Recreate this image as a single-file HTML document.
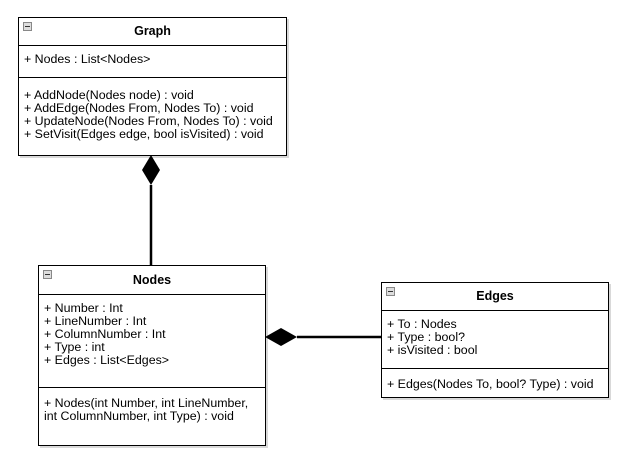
<html><head><style>
body{margin:0;background:#fff;width:628px;height:462px;position:relative;font-family:"Liberation Sans",Arial,sans-serif;font-size:12.4px;color:#000}
.b{position:absolute;border:1px solid #000;background:#fff;box-sizing:border-box;box-shadow:2px 2px 0 rgba(0,0,0,0.15);overflow:hidden}
.h{position:absolute;left:0;right:0;top:0;border-bottom:1px solid #000;font-weight:bold;text-align:center;font-size:12.5px}
.s{position:absolute;left:0;right:0;border-bottom:1px solid #000}
.t{position:absolute;left:5px;line-height:13px;white-space:nowrap}
.i{position:absolute;left:4px;top:4px;width:7px;height:7px;border:1px solid #888;background:#ddd}
.i:after{content:"";position:absolute;left:1px;top:3px;width:5px;height:1px;background:#333}
</style></head><body>
<svg width="628" height="462" style="position:absolute;left:0;top:0">
<line x1="151" y1="185" x2="151" y2="265" stroke="#000" stroke-width="2.5"/>
<polygon points="151,155 160,170 151,185 142,170" fill="#000"/>
<line x1="297" y1="337" x2="381" y2="337" stroke="#000" stroke-width="2.5"/>
<polygon points="265,337 281,328 297,337 281,346" fill="#000"/>
</svg>
<div class="b" style="left:18px;top:17px;width:269px;height:139px">
<div class="i"></div>
<div class="h" style="height:27px;line-height:27px">Graph</div>
<div class="s" style="top:27px;height:32px"></div>
<div class="t" style="top:35px">+ Nodes : List&lt;Nodes&gt;</div>
<div class="t" style="top:71px">+ AddNode(Nodes node) : void<br>+ AddEdge(Nodes From, Nodes To) : void<br>+ UpdateNode(Nodes From, Nodes To) : void<br>+ SetVisit(Edges edge, bool isVisited) : void</div>
</div>
<div class="b" style="left:38px;top:265px;width:228px;height:181px">
<div class="i"></div>
<div class="h" style="height:28px;line-height:28px">Nodes</div>
<div class="s" style="top:28px;height:93px"></div>
<div class="t" style="top:36px">+ Number : Int<br>+ LineNumber : Int<br>+ ColumnNumber : Int<br>+ Type : int<br>+ Edges : List&lt;Edges&gt;</div>
<div class="t" style="top:131px">+ Nodes(int Number, int LineNumber,<br>int ColumnNumber, int Type) : void</div>
</div>
<div class="b" style="left:381px;top:282px;width:228px;height:116px">
<div class="i"></div>
<div class="h" style="height:27px;line-height:27px">Edges</div>
<div class="s" style="top:27px;height:58px"></div>
<div class="t" style="top:35px">+ To : Nodes<br>+ Type : bool?<br>+ isVisited : bool</div>
<div class="t" style="top:95px">+ Edges(Nodes To, bool? Type) : void</div>
</div>
</body></html>
